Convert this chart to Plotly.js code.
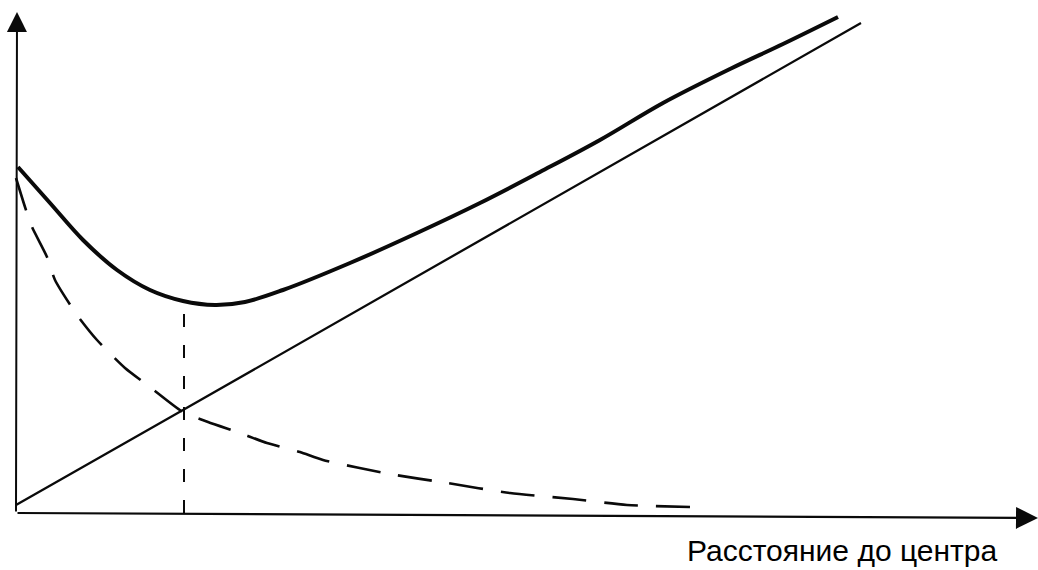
<!DOCTYPE html>
<html>
<head>
<meta charset="utf-8">
<script src="https://cdn.plot.ly/plotly-3.0.1.min.js"></script>
<style>
  html, body { margin: 0; padding: 0; background: #ffffff; }
  #chart { width: 1038px; height: 570px; }
</style>
</head>
<body>
<div id="chart"></div>
<script>
// Axis label
const xAxisLabel = "Расстояние до центра";

// Thick solid U-shaped curve (total)
const totalX = [0.02, 0.34, 0.67, 1.01, 1.34, 1.67, 1.99, 2.29, 2.67, 3.34, 4.01, 4.64, 5.24, 5.84, 6.47, 7.14, 7.67, 8.22];
const totalY = [3.48, 3.12, 2.75, 2.45, 2.25, 2.14, 2.10, 2.13, 2.25, 2.52, 2.82, 3.12, 3.43, 3.75, 4.12, 4.46, 4.71, 4.98];

// Straight rising line
const lineX = [0.00, 1.67, 8.45];
const lineY = [0.10, 1.05, 4.92];

// Dashed falling curve
const fallX = [0.00, 0.09, 0.16, 0.31, 0.39, 0.61, 0.81, 1.09, 1.34, 1.67, 1.92, 2.24, 2.51, 2.84, 3.07, 3.74, 4.31, 4.94, 5.57, 6.11, 6.74];
const fallY = [3.37, 3.08, 2.88, 2.58, 2.35, 2.00, 1.75, 1.47, 1.28, 1.03, 0.93, 0.82, 0.72, 0.63, 0.55, 0.41, 0.32, 0.22, 0.16, 0.10, 0.08];

// Vertical dashed marker at the optimum
const optX = [1.68, 1.68];
const optY = [0.02, 2.12];

// Axes (origin, ends)
const xAxisFrom = [0.00, 0.02];
const xAxisTo = [10.22, -0.03];
const yAxisFrom = [0.00, 0.02];
const yAxisTo = [0.01, 5.03];

const ink = "#0a0a0a";

const traces = [
  { x: totalX, y: totalY, mode: "lines", line: { color: ink, width: 4, shape: "spline", smoothing: 1 }, hoverinfo: "skip" },
  { x: lineX, y: lineY, mode: "lines", line: { color: ink, width: 2.3 }, hoverinfo: "skip" },
  { x: fallX, y: fallY, mode: "lines", line: { color: ink, width: 2.6, dash: "34px,18px", shape: "spline", smoothing: 0.6 }, hoverinfo: "skip" },
  { x: optX, y: optY, mode: "lines", line: { color: ink, width: 2, dash: "13px,18px" }, hoverinfo: "skip" }
];

const layout = {
  width: 1038,
  height: 570,
  margin: { l: 0, r: 0, t: 0, b: 0 },
  paper_bgcolor: "#ffffff",
  plot_bgcolor: "#ffffff",
  showlegend: false,
  xaxis: { range: [-0.16, 10.22], visible: false, fixedrange: true },
  yaxis: { range: [-0.55, 5.15], visible: false, fixedrange: true },
  annotations: [
    { x: xAxisTo[0], y: xAxisTo[1], ax: xAxisFrom[0], ay: xAxisFrom[1], xref: "x", yref: "y", axref: "x", ayref: "y",
      showarrow: true, arrowhead: 2, arrowsize: 2, arrowwidth: 2.2, arrowcolor: ink, text: "" },
    { x: yAxisTo[0], y: yAxisTo[1], ax: yAxisFrom[0], ay: yAxisFrom[1], xref: "x", yref: "y", axref: "x", ayref: "y",
      showarrow: true, arrowhead: 2, arrowsize: 2, arrowwidth: 2, arrowcolor: ink, text: "" },
    { x: 8.26, y: -0.35, xref: "x", yref: "y", showarrow: false, text: xAxisLabel,
      xanchor: "center", yanchor: "middle",
      font: { family: "Liberation Sans, Arial, sans-serif", size: 30, color: "#000000" } }
  ]
};

Plotly.newPlot("chart", traces, layout, { staticPlot: true, displayModeBar: false });
</script>
</body>
</html>
